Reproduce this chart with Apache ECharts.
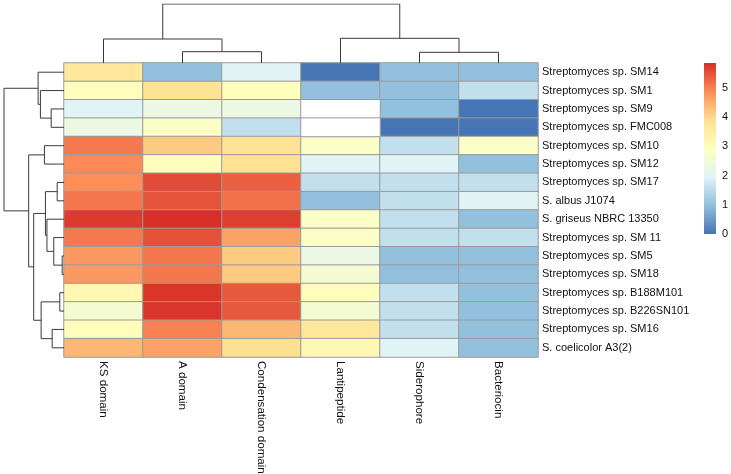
<!DOCTYPE html>
<html><head><meta charset="utf-8">
<script src="https://cdn.jsdelivr.net/npm/echarts@6/dist/echarts.min.js"></script>
<style>html,body{margin:0;padding:0;background:#fff}#c{width:731px;height:474px}</style>
</head><body><div id="c"></div>
<script>
// ---- data ----
const columns = ['KS domain', 'A domain', 'Condensation domain', 'Lantipeptide', 'Siderophore', 'Bacteriocin'];
const strains = ['Streptomyces sp. SM14', 'Streptomyces sp. SM1', 'Streptomyces sp. SM9', 'Streptomyces sp. FMC008',
  'Streptomyces sp. SM10', 'Streptomyces sp. SM12', 'Streptomyces sp. SM17', 'S. albus J1074',
  'S. griseus NBRC 13350', 'Streptomyces sp. SM 11', 'Streptomyces sp. SM5', 'Streptomyces sp. SM18',
  'Streptomyces sp. B188M101', 'Streptomyces sp. B226SN101', 'Streptomyces sp. SM16', 'S. coelicolor A3(2)'];
const ksDomain           = [3.7, 3.0, 2.0, 2.32, 5.09, 4.91, 4.86, 5.13, 5.73, 5.09, 4.75, 4.75, 3.17, 2.58, 3.0, 4.39];
const aDomain            = [1.0, 3.81, 2.32, 2.81, 4.17, 3.0, 5.58, 5.49, 5.86, 5.52, 5.13, 5.13, 5.81, 5.81, 5.0, 4.64];
const condensationDomain = [2.0, 3.0, 2.32, 1.58, 3.81, 3.81, 5.36, 5.17, 5.7, 4.64, 4.17, 4.17, 5.43, 5.43, 4.39, 3.91];
const lantipeptide       = [0, 1.0, null, null, 2.81, 2.0, 1.58, 1.0, 2.81, 2.81, 2.32, 2.58, 3.0, 2.58, 3.7, 3.17];
const siderophore        = [1.0, 1.0, 1.0, 0, 1.58, 2.0, 1.58, 1.58, 1.58, 1.58, 1.0, 1.0, 1.58, 1.58, 1.58, 2.0];
const bacteriocin        = [1.0, 1.58, 0, 0, 2.81, 1.0, 1.58, 2.0, 1.0, 1.58, 1.0, 1.0, 1.0, 1.0, 1.0, 1.0];
const legendTicks = [0, 1, 2, 3, 4, 5];
const colorMin = 0;
const colorMax = 5.86;
const paletteColors = ['#4575B4', '#91BFDB', '#E0F3F8', '#FFFFBF', '#FEE090', '#FC8D59', '#D73027'];
// dendrograms (hclust style: negative = leaf in display order, positive = earlier merge)
const colMerge  = [[-2, -3], [-5, -6], [-1, 1], [-4, 2], [3, 4]];
const colHeight = [11.3, 10.7, 24, 24.7, 59];
const rowMerge  = [[-3, -4], [-2, 1], [-1, 2], [-5, -6], [-7, -8], [-11, -12], [-10, 6], [-9, 7], [5, 8],
  [-13, -14], [-15, -16], [10, 11], [9, 12], [4, 13], [3, 14]];
const rowHeight = [12.8, 23.5, 25.8, 19.5, 6.8, 1.8, 10.2, 17, 18.5, 4.2, 11.8, 22.8, 30.2, 35.2, 59.8];

// ---- build ----
const valueColumns = [ksDomain, aDomain, condensationDomain, lantipeptide, siderophore, bacteriocin];
const cells = [], naCells = [];
valueColumns.forEach((col, ci) => col.forEach((v, ri) => {
  if (v === null) naCells.push([ci, ri, 0]); else cells.push([ci, ri, v]);
}));

function dendroLines(merge, height, swap) {
  const pos = [], h = [], out = [];
  merge.forEach((m, i) => {
    const pts = m.map(k => k < 0 ? [-k - 0.5, 0] : [pos[k - 1], h[k - 1]]);
    const hi = height[i];
    pos[i] = (pts[0][0] + pts[1][0]) / 2; h[i] = hi;
    let c = [[pts[0][0], pts[0][1]], [pts[0][0], hi], [pts[1][0], hi], [pts[1][0], pts[1][1]]];
    if (swap) c = c.map(p => [p[1], p[0]]);
    out.push({ coords: c });
  });
  return out;
}

const FONT = 'Liberation Sans, Arial, Helvetica, sans-serif';
const chart = echarts.init(document.getElementById('c'), null, { renderer: 'canvas' });
const hidden = { show: false };
const gradientStops = paletteColors.map((c, i) => ({ offset: i / (paletteColors.length - 1), color: c }));
chart.setOption({
  animation: false,
  backgroundColor: '#fff',
  grid: [
    { left: 64, top: 63, width: 474, height: 294, outerBoundsMode: 'none', containLabel: false },   // heatmap
    { left: 64, top: 4, width: 474, height: 59, outerBoundsMode: 'none', containLabel: false },     // column dendrogram
    { left: 4, top: 63, width: 60, height: 294, outerBoundsMode: 'none', containLabel: false },     // row dendrogram
    { left: 704, top: 63, width: 12, height: 171, outerBoundsMode: 'none', containLabel: false }    // legend colour bar
  ],
  xAxis: [
    { gridIndex: 0, type: 'category', data: columns, position: 'bottom',
      axisLine: hidden, axisTick: hidden, splitLine: hidden,
      axisLabel: { rotate: -90, margin: 4, fontSize: 11.6, color: '#111', fontFamily: FONT, interval: 0 } },
    { gridIndex: 1, type: 'value', min: 0, max: columns.length, show: false },
    { gridIndex: 2, type: 'value', min: 0, max: rowHeight[rowHeight.length - 1], inverse: true, show: false },
    { gridIndex: 3, type: 'value', min: 0, max: 1, show: false }
  ],
  yAxis: [
    { gridIndex: 0, type: 'category', data: strains, inverse: true, position: 'right',
      axisLine: hidden, axisTick: hidden, splitLine: hidden,
      axisLabel: { margin: 4, fontSize: 11, color: '#111', fontFamily: FONT, interval: 0, align: 'left' } },
    { gridIndex: 1, type: 'value', min: 0, max: colHeight[colHeight.length - 1], show: false },
    { gridIndex: 2, type: 'value', min: 0, max: strains.length, inverse: true, show: false },
    { gridIndex: 3, type: 'value', min: colorMin, max: colorMax, interval: 1, position: 'right',
      axisLine: hidden, axisTick: hidden, splitLine: hidden,
      axisLabel: { margin: 6, fontSize: 11, color: '#111', fontFamily: FONT,
        formatter: v => legendTicks.indexOf(v) >= 0 ? String(v) : '' } }
  ],
  visualMap: {
    type: 'continuous', show: false, seriesIndex: 0, min: colorMin, max: colorMax,
    inRange: { color: paletteColors }
  },
  series: [
    { type: 'heatmap', xAxisIndex: 0, yAxisIndex: 0, data: cells,
      itemStyle: { borderColor: '#9a9a9a', borderWidth: 1 }, emphasis: { disabled: true } },
    { type: 'heatmap', xAxisIndex: 0, yAxisIndex: 0, data: naCells,
      itemStyle: { color: '#ffffff', borderColor: '#9a9a9a', borderWidth: 1 }, emphasis: { disabled: true } },
    { type: 'lines', coordinateSystem: 'cartesian2d', xAxisIndex: 1, yAxisIndex: 1, polyline: true,
      data: dendroLines(colMerge, colHeight, false), lineStyle: { color: '#3a3a3a', width: 1, opacity: 1 }, silent: true },
    { type: 'lines', coordinateSystem: 'cartesian2d', xAxisIndex: 2, yAxisIndex: 2, polyline: true,
      data: dendroLines(rowMerge, rowHeight, true), lineStyle: { color: '#3a3a3a', width: 1, opacity: 1 }, silent: true },
    { type: 'custom', xAxisIndex: 3, yAxisIndex: 3, silent: true,
      data: [[colorMin, colorMax]],
      renderItem: (params, api) => {
        const p0 = api.coord([0, api.value(0)]);
        const p1 = api.coord([1, api.value(1)]);
        return { type: 'rect',
          shape: { x: p0[0], y: p1[1], width: p1[0] - p0[0], height: p0[1] - p1[1] },
          style: { fill: new echarts.graphic.LinearGradient(0, 1, 0, 0, gradientStops) } };
      } }
  ]
});
</script></body></html>
